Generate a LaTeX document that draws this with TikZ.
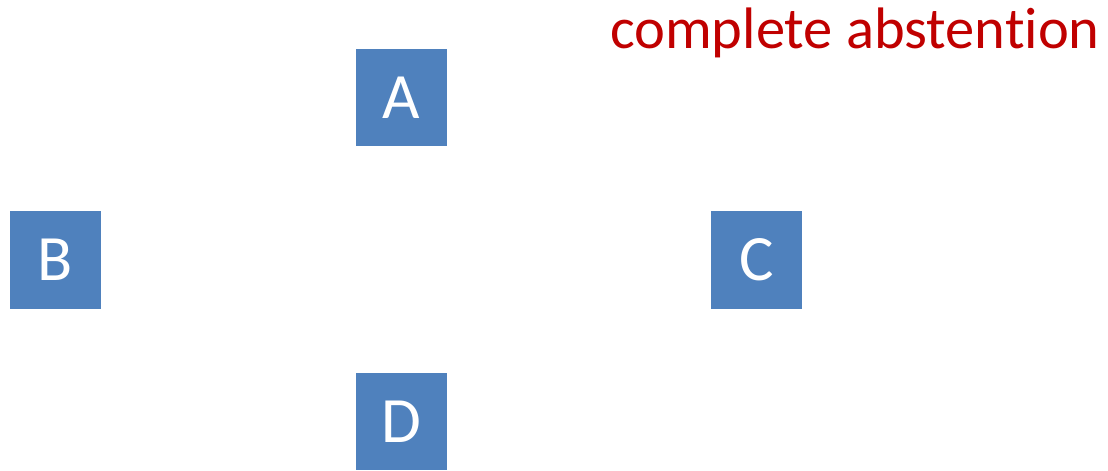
\documentclass[tikz,border=0pt]{standalone}
\usepackage{fontspec}
\setmainfont{Carlito}[Ligatures={NoCommon}]
\usepackage{tikz}
\definecolor{boxblue}{HTML}{4F81BD}
\definecolor{titlered}{HTML}{C00000}
\tikzset{
  votenode/.style={rectangle,fill=boxblue,text=white,minimum width=64.7pt,minimum height=69pt,inner sep=0pt,font=\fontsize{46}{50}\selectfont},
  titletext/.style={text=titlered,inner sep=0pt,font=\fontsize{41.6}{46}\selectfont},
}
\begin{document}
\begin{tikzpicture}[x=0.025cm,y=-0.025cm]
  \useasboundingbox (0,0) rectangle (1108,470);
  \node[votenode] (A) at (401.5,97.5) {A};
  \node[votenode] (B) at (55.5,260) {B};
  \node[votenode] (C) at (756.5,260) {C};
  \node[votenode] (D) at (401.5,421.5) {D};
  \node[titletext,anchor=base east] (T) at (1100,48) {complete abstention};
\end{tikzpicture}
\end{document}
